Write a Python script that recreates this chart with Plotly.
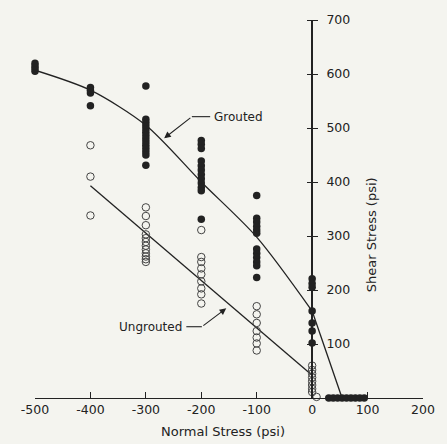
import plotly.graph_objects as go

# ---- data ----
grouted_x = ([-500] * 4 + [-400] * 4 + [-300] * 14 + [-200] * 12 + [-100] * 12
             + [0] * 7 + [30, 38, 46, 54, 62, 70, 78, 86, 94])
grouted_y = ([605, 610, 615, 620]
             + [565, 570, 575, 541]
             + [578, 516, 510, 504, 498, 492, 486, 480, 474, 468, 462, 456, 450, 431]
             + [477, 470, 462, 439, 430, 422, 414, 406, 398, 390, 384, 331]
             + [375, 333, 326, 318, 311, 305, 276, 268, 260, 252, 245, 223]
             + [221, 212, 205, 161, 139, 124, 102]
             + [0, 0, 0, 0, 0, 0, 0, 0, 0])

ungrouted_x = ([-400] * 3 + [-300] * 12 + [-200] * 9 + [-100] * 7 + [0] * 8 + [8])
ungrouted_y = ([468, 410, 338]
               + [353, 337, 320, 303, 296, 289, 282, 275, 268, 262, 257, 252]
               + [311, 261, 252, 240, 229, 216, 203, 192, 175]
               + [170, 155, 139, 124, 112, 101, 88]
               + [60, 52, 45, 38, 31, 24, 17, 11]
               + [2])

# fitted curves as drawn
g_curve_x = [-500, -400, -300, -200, -100, 0]
g_curve_y = [607, 570, 505, 400, 298, 161]
g_tail_x = [0, 54]
g_tail_y = [161, 0]
u_line_x = [-400, 0]
u_line_y = [393, 42]

x_ticks = [-500, -400, -300, -200, -100, 0, 100, 200]
y_ticks = [100, 200, 300, 400, 500, 600, 700]

INK = "#222222"
BG = "#f4f4ef"
FONT = "DejaVu Sans"

fig = go.Figure()

fig.add_trace(go.Scatter(x=g_curve_x, y=g_curve_y, mode="lines",
                         line=dict(color=INK, width=1.3, shape="spline", smoothing=0.8),
                         cliponaxis=False, hoverinfo="skip"))
fig.add_trace(go.Scatter(x=g_tail_x, y=g_tail_y, mode="lines",
                         line=dict(color=INK, width=1.3), cliponaxis=False, hoverinfo="skip"))
fig.add_trace(go.Scatter(x=u_line_x, y=u_line_y, mode="lines",
                         line=dict(color=INK, width=1.3), cliponaxis=False, hoverinfo="skip"))

fig.add_trace(go.Scatter(x=ungrouted_x, y=ungrouted_y, mode="markers", name="Ungrouted",
                         marker=dict(symbol="circle-open", size=7.5, color="#444444",
                                     line=dict(width=1, color="#444444")),
                         cliponaxis=False))
fig.add_trace(go.Scatter(x=grouted_x, y=grouted_y, mode="markers", name="Grouted",
                         marker=dict(symbol="circle", size=7.5, color=INK),
                         cliponaxis=False))

# invisible trace to activate the second y axis (left half of the crossing ticks)
fig.add_trace(go.Scatter(x=[0], y=[0], yaxis="y2", mode="markers",
                         marker=dict(opacity=0), hoverinfo="skip"))

# leader lines for the labels
fig.add_shape(type="line", x0=-217, y0=521, x1=-184, y1=521,
              line=dict(color=INK, width=1.1))
fig.add_shape(type="line", x0=-227, y0=132, x1=-199, y1=132,
              line=dict(color=INK, width=1.1))

fig.add_annotation(x=-267, y=481, ax=-217, ay=521, axref="x", ayref="y",
                   text="", showarrow=True, arrowhead=2, arrowsize=1.2,
                   arrowwidth=1.1, arrowcolor=INK)
fig.add_annotation(x=-155, y=166, ax=-199, ay=132, axref="x", ayref="y",
                   text="", showarrow=True, arrowhead=2, arrowsize=1.2,
                   arrowwidth=1.1, arrowcolor=INK)

fig.add_annotation(x=-180, y=521, text="Grouted", showarrow=False,
                   xanchor="left", yanchor="middle",
                   font=dict(family=FONT, size=12, color=INK))
fig.add_annotation(x=-232, y=132, text="Ungrouted", showarrow=False,
                   xanchor="right", yanchor="middle",
                   font=dict(family=FONT, size=12, color=INK))

# axis titles
fig.add_annotation(x=-161, y=-0.089, yref="paper", text="Normal Stress (psi)",
                   showarrow=False, xanchor="center", yanchor="middle",
                   font=dict(family=FONT, size=13, color=INK))
fig.add_annotation(x=0.868, xref="paper", y=303, text="Shear Stress (psi)",
                   textangle=-90, showarrow=False, xanchor="center", yanchor="middle",
                   font=dict(family=FONT, size=13, color=INK))

fig.update_layout(
    width=447, height=444,
    margin=dict(l=35, r=24, t=15, b=46),
    paper_bgcolor=BG, plot_bgcolor=BG,
    showlegend=False,
    font=dict(family=FONT, size=12, color=INK),
    xaxis=dict(range=[-500, 200], showgrid=False, zeroline=False,
               showline=True, linecolor=INK, linewidth=1.3,
               ticks="inside", ticklen=6, tickcolor=INK, tickwidth=1,
               tickvals=x_ticks, ticktext=[str(v) for v in x_ticks],
               tickfont=dict(family=FONT, size=12.5, color=INK)),
    yaxis=dict(range=[0, 700], anchor="free", position=500 / 700, side="right",
               showgrid=False, zeroline=False,
               showline=True, linecolor=INK, linewidth=1.5,
               ticks="outside", ticklen=5, tickcolor=INK, tickwidth=1,
               tickvals=y_ticks, ticklabelstandoff=6,
               tickfont=dict(family=FONT, size=12.5, color=INK)),
    yaxis2=dict(range=[0, 700], overlaying="y", anchor="free", position=500 / 700,
                side="left", showgrid=False, zeroline=False, showline=False,
                ticks="outside", ticklen=5, tickcolor=INK, tickwidth=1,
                tickvals=y_ticks, showticklabels=False),
)

# drop the default page margin so the figure sits at the window origin
fig.write_html("out.html",
               config={"displayModeBar": False},
               post_script="document.body.style.margin='0';"
                           "document.body.style.background='" + BG + "';")
